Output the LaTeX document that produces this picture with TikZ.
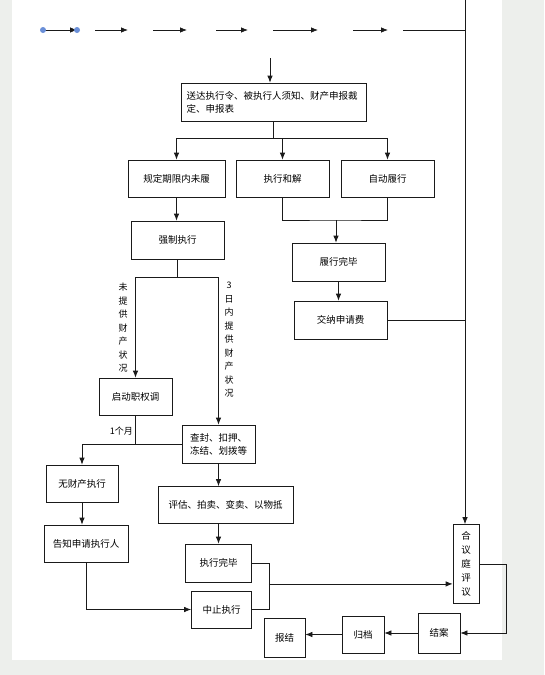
\documentclass[tikz,border=0pt]{standalone}
\usepackage{xcolor}
\usepackage{fontspec}
\usepackage{tikz}
\usetikzlibrary{arrows.meta,positioning,calc}
\newfontfamily\cjk{Noto Sans CJK SC}
\definecolor{pagegrey}{HTML}{EDEFEC}
\definecolor{dotblue}{HTML}{6A8FD8}
\definecolor{ink}{HTML}{1A1A1A}

\tikzset{
  box/.style={draw=ink, line width=0.75pt, fill=white, inner sep=2pt, align=center,
    font=\cjk\fontsize{9.5}{13}\selectfont},
  arr/.style={draw=ink, -{Latex[length=7pt,width=5.5pt]}, line width=0.75pt},
  ln/.style={draw=ink, line width=0.75pt},
  vlabel/.style={align=center, inner sep=0pt, font=\cjk\fontsize{9}{13.5}\selectfont},
}

\begin{document}
\begin{tikzpicture}[x=1pt, y=-1pt]
  % page
  \fill[pagegrey] (0,0) rectangle (544,675);
  \fill[white] (12,0) rectangle (502,660);
  \useasboundingbox (0,0) rectangle (544,675);

  % top row
  \coordinate (d1) at (43,30);
  \coordinate (d2) at (77,30);
  \draw[arr] (d1) -- (d2);
  \fill[dotblue] (d1) circle (3pt) (d2) circle (3pt);
  \foreach \a/\b in {95/128, 153/187, 216/248, 273/318, 353/388}
    \draw[arr] (\a,30) -- (\b,30);
  \coordinate (vtop) at (465,0);
  \draw[ln] (403,30) -- (465,30);
  \coordinate (sendin) at (270,58);

  % boxes
  \node[box, minimum width=185pt, minimum height=38pt, text width=174pt, align=left] (send) at (273.5,102)
    {送达执行令、被执行人须知、财产申报裁\\定、申报表};
  \node[box, minimum width=97pt, minimum height=37pt] (guiding) at (176.5,178.5) {规定期限内未履};
  \node[box, minimum width=93pt, minimum height=37pt] (hejie) at (282.5,178.5) {执行和解};
  \node[box, minimum width=93pt, minimum height=37pt] (zidong) at (387.5,178.5) {自动履行};
  \node[box, minimum width=93pt, minimum height=38pt] (qiangzhi) at (177.5,240) {强制执行};
  \node[box, minimum width=93pt, minimum height=38pt] (lvxing) at (338.5,262) {履行完毕};
  \node[box, minimum width=93pt, minimum height=38pt] (jiaona) at (340.5,320) {交纳申请费};
  \node[box, minimum width=73pt, minimum height=37pt] (qidong) at (135.5,396.5) {启动职权调};
  \node[box, minimum width=73pt, minimum height=38pt] (chafeng) at (218.5,444) {查封、扣押、\\冻结、划拨等};
  \node[box, minimum width=72pt, minimum height=37pt] (wucai) at (82,483.5) {无财产执行};
  \node[box, minimum width=84pt, minimum height=37pt] (gaozhi) at (86,543.5) {告知申请执行人};
  \node[box, minimum width=135pt, minimum height=37pt] (pinggu) at (225.5,505) {评估、拍卖、变卖、以物抵};
  \node[box, minimum width=66pt, minimum height=38pt] (wanbi) at (218.5,563) {执行完毕};
  \node[box, minimum width=60pt, minimum height=37pt] (zhongzhi) at (221.5,609.5) {中止执行};
  \node[box, minimum width=26pt, minimum height=79pt, font=\cjk\fontsize{9.5}{14}\selectfont] (heyi) at (466,564)
    {合\\议\\庭\\评\\议};
  \node[box, minimum width=42pt, minimum height=40pt] (jiean) at (439,633) {结案};
  \node[box, minimum width=42pt, minimum height=37pt] (guidang) at (363,634.5) {归档};
  \node[box, minimum width=41pt, minimum height=39pt] (baojie) at (284.5,637.5) {报结};

  % labels
  \node[vlabel] (nolab) at (123,328) {未\\提\\供\\财\\产\\状\\况};
  \node[vlabel] (yeslab) at (229,340) {3\\日\\内\\提\\供\\财\\产\\状\\况};
  \node[vlabel, anchor=east] (monthlab) at (133,431) {1个月};

  % connectors
  \draw[arr] (sendin) -- (sendin |- send.north);
  \draw[ln] (send.south) -- ++(0,17) coordinate (j1);
  \draw[arr] (j1) -| (guiding.north);
  \draw[arr] (j1) -- (j1 -| hejie.north) -- (hejie.north);
  \draw[arr] (j1) -| (zidong.north);
  \draw[arr] (guiding.south) -- (guiding.south |- qiangzhi.north);

  \coordinate (j2) at (336,220);
  \draw[ln] (hejie.south) |- (j2) -| (zidong.south);
  \draw[arr] (j2) -- (j2 |- lvxing.north);
  \draw[arr] (lvxing.south) -- (lvxing.south |- jiaona.north);
  \draw[ln] (jiaona.east) -- (jiaona.east -| vtop);
  \draw[arr] (vtop) -- (vtop |- heyi.north);

  \draw[ln] (qiangzhi.south) -- ++(0,18) coordinate (j3);
  \draw[arr] (j3) -| (qidong.north);
  \draw[arr] (j3) -| (chafeng.north);

  \draw[ln] (qidong.south) -- (qidong.south |- chafeng.west);
  \draw[arr] (chafeng.west) -| (wucai.north);
  \draw[arr] (wucai.south) -- (wucai.south |- gaozhi.north);
  \draw[arr] (gaozhi.south) |- (zhongzhi.west);

  \draw[arr] (chafeng.south) -- (chafeng.south |- pinggu.north);
  \draw[arr] (wanbi.north |- pinggu.south) -- (wanbi.north);
  \draw[ln] (wanbi.east) -- ++(17,0) coordinate (j4) |- (zhongzhi.east);
  \coordinate (j5) at ($(j4)!0.45!(j4 |- zhongzhi.east)$);
  \draw[arr] (j5) -- (j5 -| heyi.west);

  \draw[arr] (heyi.east) -- ++(27,0) |- (jiean.east);
  \draw[arr] (jiean.west) -- (jiean.west -| guidang.east);
  \draw[arr] (guidang.west) -- (guidang.west -| baojie.east);
\end{tikzpicture}
\end{document}
